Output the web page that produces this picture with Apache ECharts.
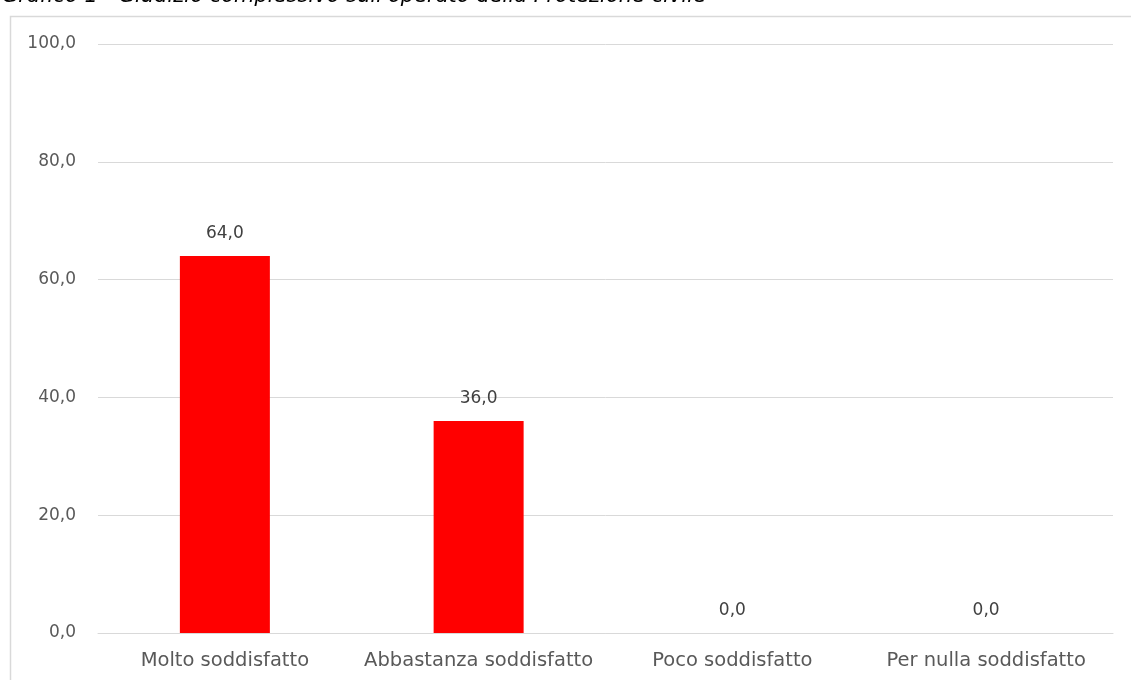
<!DOCTYPE html>
<html>
<head>
<meta charset="utf-8">
<script src="https://cdn.jsdelivr.net/npm/echarts@6/dist/echarts.min.js"></script>
<style>
  html, body { margin: 0; padding: 0; background: #fff; }
  #chart { width: 1131px; height: 680px; }
</style>
</head>
<body>
<div id="chart"></div>
<script>
// Giudizio complessivo sull'operato della Protezione civile (%)
const categories = ['Molto soddisfatto', 'Abbastanza soddisfatto', 'Poco soddisfatto', 'Per nulla soddisfatto'];
const values = [64.0, 36.0, 0.0, 0.0];
const titleText = "Grafico 1 - Giudizio complessivo sull'operato della Protezione civile";

const fmt = v => Number(v).toFixed(1).replace('.', ',');
const font = 'DejaVu Sans, Verdana, sans-serif';

const chart = echarts.init(document.getElementById('chart'));
chart.setOption({
  animation: false,
  backgroundColor: '#ffffff',
  graphic: [
    {
      type: 'rect',
      shape: { x: 10.5, y: 16.5, width: 1130, height: 680 },
      style: { fill: 'none', stroke: '#d9d9d9', lineWidth: 1.5 },
      silent: true
    },
    {
      type: 'text',
      left: 2,
      top: -14,
      style: {
        text: titleText,
        font: 'italic 21px ' + font,
        fill: '#000000'
      }
    }
  ],
  grid: { left: 98, right: 18, top: 44, bottom: 47 },
  xAxis: {
    type: 'category',
    data: categories,
    axisLine: { lineStyle: { color: '#d9d9d9', width: 1 } },
    axisTick: { show: false },
    axisLabel: { color: '#595959', fontFamily: font, fontSize: 19.5, margin: 18, interval: 0 }
  },
  yAxis: {
    type: 'value',
    min: 0,
    max: 100,
    interval: 20,
    axisLine: { show: false },
    axisTick: { show: false },
    splitLine: { lineStyle: { color: '#d9d9d9', width: 1 } },
    axisLabel: {
      color: '#595959', fontFamily: font, fontSize: 17, margin: 22,
      formatter: v => fmt(v)
    }
  },
  series: [{
    type: 'bar',
    data: values,
    barWidth: 90,
    itemStyle: { color: '#ff0000' },
    label: {
      show: true,
      position: 'top',
      distance: 14,
      color: '#404040',
      fontFamily: font,
      fontSize: 17,
      formatter: p => fmt(p.value)
    }
  }]
});
</script>
</body>
</html>
